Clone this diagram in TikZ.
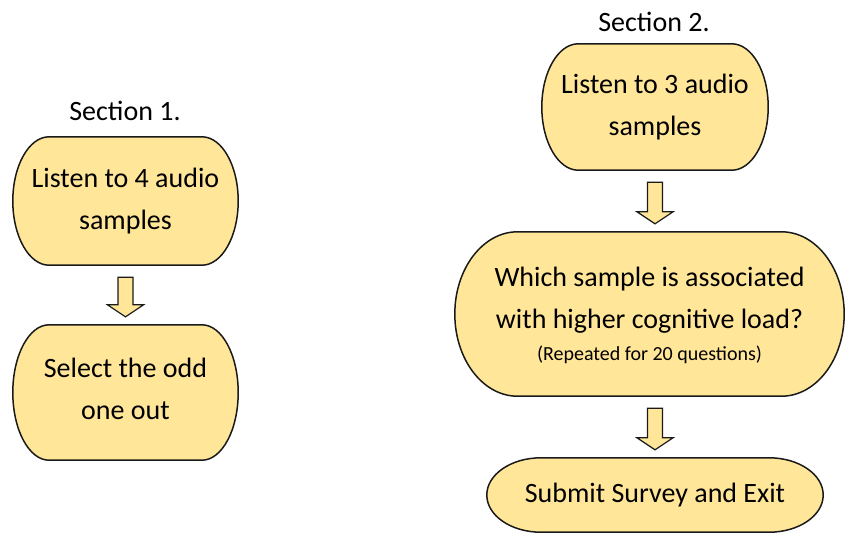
\documentclass[tikz,border=0pt]{standalone}
\usepackage{fontspec}
\setmainfont{Carlito}
\usetikzlibrary{calc,backgrounds}
\definecolor{boxfill}{HTML}{FFE699}
\definecolor{edge}{HTML}{1A1A1A}

\tikzset{
  stepnode/.style={inner sep=0pt, align=center, text=black,
    font=\fontsize{28}{42}\selectfont},
  sectionlabel/.style={inner sep=0pt, anchor=base, text=black,
    font=\fontsize{28}{34}\selectfont},
  termline/.style={draw=edge, line width=1.5pt, fill=boxfill},
  flowarrow/.style={draw=edge, line width=1.2pt, fill=boxfill, line join=miter},
}

% Terminator outline (straight top and bottom, elliptical ends) drawn round a node
\newcommand\terminator[1]{%
  \path[termline] let \p1=(#1.north west), \p2=(#1.south east),
      \n1={(\y1-\y2)/2}, \n2={0.161*(\x2-\x1)} in
    (\x1+\n2,\y1) -- (\x2-\n2,\y1)
    arc[start angle=90, end angle=-90, x radius=\n2, y radius=\n1]
    -- (\x1+\n2,\y2)
    arc[start angle=270, end angle=90, x radius=\n2, y radius=\n1] -- cycle;}

% Hollow block arrow from one node down to the next, centred on a third node
\newcommand\blockarrow[3]{%
  \path[flowarrow] let \p1=(#1.south), \p2=(#2.north), \p3=(#3.center) in
    (\x3-7.5pt,\y1-12pt) -- (\x3+7.5pt,\y1-12pt) -- (\x3+7.5pt,\y2+20pt)
    -- (\x3+18pt,\y2+20pt) -- (\x3,\y2+8pt) -- (\x3-18pt,\y2+20pt)
    -- (\x3-7.5pt,\y2+20pt) -- cycle;}

\begin{document}
\begin{tikzpicture}[x=1pt, y=-1pt]
\useasboundingbox (0,0) rectangle (845,533);

% Section 1
\node[sectionlabel] (s1) at (125,120) {Section 1.};
\node[stepnode, minimum width=225pt, minimum height=128pt] (b1) at (125.5,201)
  {Listen to 4 audio\\samples};
\node[stepnode, minimum width=225pt, minimum height=135pt, text depth=8pt] (b2)
  at (125.5,392.5) {Select the odd\\one out};

% Section 2
\node[sectionlabel] (s2) at (654,31) {Section 2.};
\node[stepnode, minimum width=226pt, minimum height=126pt] (b3) at (655,107)
  {Listen to 3 audio\\samples};
\node[stepnode, minimum width=389pt, minimum height=164pt, text depth=0pt] (b4)
  at (649.5,314)
  {Which sample is associated\\with higher cognitive load?\\[-10pt]
   {\fontsize{20}{24}\selectfont (Repeated for 20 questions)}};
\node[stepnode, minimum width=336pt, minimum height=74pt] (b5) at (655,495)
  {Submit Survey and Exit};

\begin{scope}[on background layer]
  \terminator{b1}
  \terminator{b2}
  \terminator{b3}
  \terminator{b4}
  \terminator{b5}
\end{scope}

\blockarrow{b1}{b2}{b1}
\blockarrow{b3}{b4}{b3}
\blockarrow{b4}{b5}{b5}
\end{tikzpicture}
\end{document}
